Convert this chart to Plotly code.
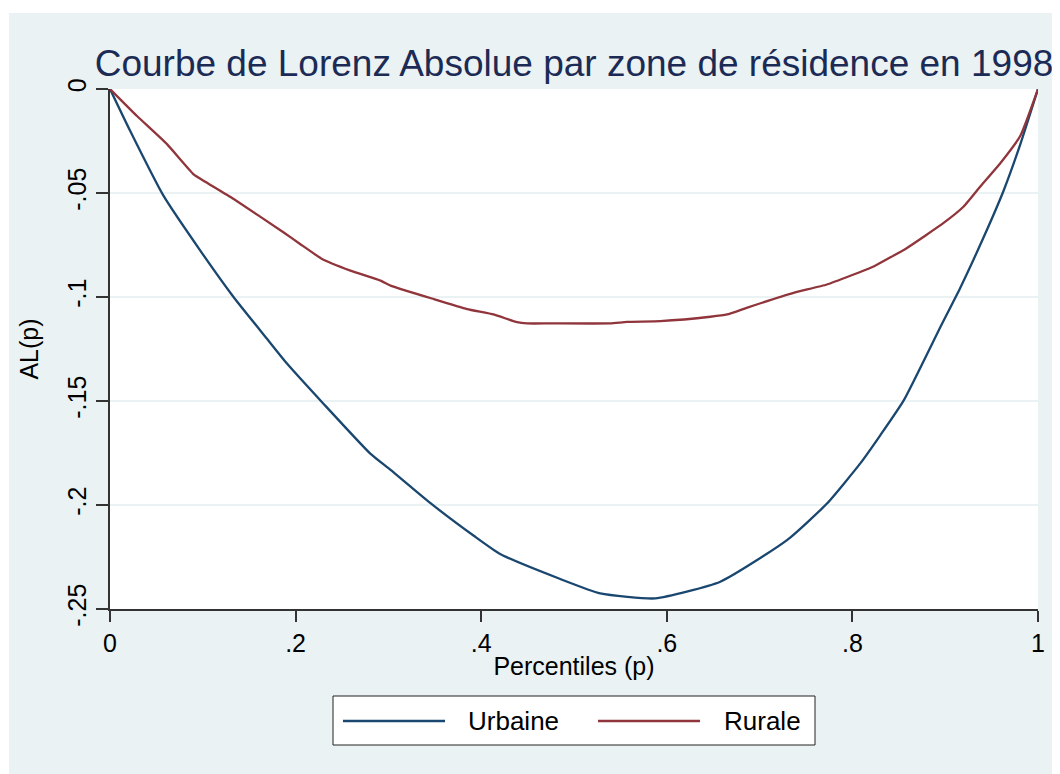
import plotly.graph_objects as go

# ---- data ----
urb_p = [0.0, 0.0218, 0.0576, 0.0973, 0.1333, 0.1692, 0.1907, 0.2300, 0.2805, 0.3020,
         0.3450, 0.3920, 0.4205, 0.4852, 0.5283, 0.5876, 0.6576, 0.7295, 0.7726, 0.8085,
         0.8300, 0.8553, 0.8947, 0.9163, 0.9414, 0.9629, 0.9810, 1.0]
urb_al = [0.0, -0.0202, -0.0513, -0.0777, -0.1001, -0.1201, -0.1320, -0.1513, -0.1753, -0.1830,
          -0.1990, -0.2148, -0.2236, -0.2356, -0.2425, -0.2449, -0.2369, -0.2169, -0.1993, -0.1800,
          -0.1665, -0.1497, -0.1145, -0.0955, -0.0713, -0.0489, -0.0265, 0.0]

rur_p = [0.0, 0.0291, 0.0614, 0.0901, 0.1009, 0.1333, 0.1872, 0.2048, 0.2285, 0.2591,
         0.2915, 0.3023, 0.3489, 0.3848, 0.4134, 0.4386, 0.4493, 0.4744, 0.5390, 0.5570,
         0.5930, 0.6470, 0.6650, 0.6860, 0.7366, 0.7726, 0.8229, 0.8588, 0.8983, 0.9199,
         0.9378, 0.9594, 0.9810, 1.0]
rur_al = [0.0, -0.0130, -0.0265, -0.0410, -0.0441, -0.0529, -0.0690, -0.0745, -0.0817, -0.0873,
          -0.0921, -0.0945, -0.1010, -0.1058, -0.1084, -0.1121, -0.1127, -0.1127, -0.1127, -0.1120,
          -0.1116, -0.1095, -0.1084, -0.1052, -0.0980, -0.0940, -0.0853, -0.0764, -0.0644, -0.0565,
          -0.0469, -0.0357, -0.0225, 0.0]

series_names = ["Urbaine", "Rurale"]
x_tickvals = [0, 0.2, 0.4, 0.6, 0.8, 1]
x_ticktext = ["0", ".2", ".4", ".6", ".8", "1"]
y_tickvals = [0, -0.05, -0.1, -0.15, -0.2, -0.25]
y_ticktext = ["0", "-.05", "-.1", "-.15", "-.2", "-.25"]

# ---- style ----
FONT = "Liberation Sans, Arial, sans-serif"
BLUE = "#1a476f"
RED = "#90353b"
BG = "#EAF2F3"
OFF = 8  # page body margin
W, H = 1060 - OFF, 774 - OFF
L, R, T, B = 102, 22, 81, 165
PW, PH = W - L - R, H - T - B


def px(x):  # page pixel -> paper x
    return (x - OFF - L) / PW


def py(y):  # page pixel -> paper y
    return (H - B - (y - OFF)) / PH


fig = go.Figure()
fig.add_trace(go.Scatter(x=urb_p, y=urb_al, mode="lines", name=series_names[0],
                         line=dict(color=BLUE, width=2.3, shape="spline", smoothing=0.5),
                         cliponaxis=False))
fig.add_trace(go.Scatter(x=rur_p, y=rur_al, mode="lines", name=series_names[1],
                         line=dict(color=RED, width=2.3, shape="spline", smoothing=0.4),
                         cliponaxis=False))

shapes = [
    dict(type="rect", xref="paper", yref="paper", x0=px(9), x1=px(1080), y0=py(800), y1=py(13),
         fillcolor=BG, line=dict(width=0), layer="below"),
    dict(type="rect", xref="paper", yref="paper", x0=0, x1=1, y0=0, y1=1,
         fillcolor="white", line=dict(width=0), layer="below"),
    # legend box
    dict(type="rect", xref="paper", yref="paper", x0=px(333), x1=px(815), y0=py(745), y1=py(696),
         fillcolor="white", line=dict(color="#222222", width=1)),
    dict(type="line", xref="paper", yref="paper", x0=px(343), x1=px(445), y0=py(721), y1=py(721),
         line=dict(color=BLUE, width=2.3)),
    dict(type="line", xref="paper", yref="paper", x0=px(598), x1=px(700), y0=py(721), y1=py(721),
         line=dict(color=RED, width=2.3)),
]
annotations = [
    dict(text=series_names[0], xref="paper", yref="paper", x=px(466), y=py(721),
         xanchor="left", yanchor="middle", showarrow=False, font=dict(family=FONT, size=26, color="black")),
    dict(text=series_names[1], xref="paper", yref="paper", x=px(722), y=py(721),
         xanchor="left", yanchor="middle", showarrow=False, font=dict(family=FONT, size=26, color="black")),
]

fig.update_layout(
    width=W, height=H,
    margin=dict(l=L, r=R, t=T, b=B, autoexpand=False),
    paper_bgcolor="white",
    plot_bgcolor="white",
    showlegend=False,
    shapes=shapes,
    annotations=annotations,
    title=dict(text="Courbe de Lorenz Absolue par zone de résidence en 1998",
               font=dict(family=FONT, size=37, color="#1c2b55"),
               xref="paper", x=0.5, xanchor="center",
               yref="container", y=1 - 55 / H, yanchor="middle"),
    xaxis=dict(range=[0, 1], tickvals=x_tickvals, ticktext=x_ticktext,
               showgrid=False, zeroline=False,
               showline=True, linecolor="#333333", linewidth=1.5,
               ticks="outside", ticklen=11, tickwidth=1.5, tickcolor="#333333",
               tickfont=dict(family=FONT, size=25, color="black"),
               title=dict(text="Percentiles (p)", font=dict(family=FONT, size=25, color="black"),
                          standoff=2)),
    yaxis=dict(range=[-0.25, 0], tickvals=y_tickvals, ticktext=y_ticktext,
               showgrid=True, gridcolor=BG, gridwidth=2, zeroline=False,
               showline=True, linecolor="#333333", linewidth=1.5,
               ticks="outside", ticklen=12, tickwidth=1.5, tickcolor="#333333",
               tickangle=-90,
               tickfont=dict(family=FONT, size=25, color="black"),
               title=dict(text="AL(p)", font=dict(family=FONT, size=25, color="black"),
                          standoff=18)),
)

fig.write_html("out.html")
